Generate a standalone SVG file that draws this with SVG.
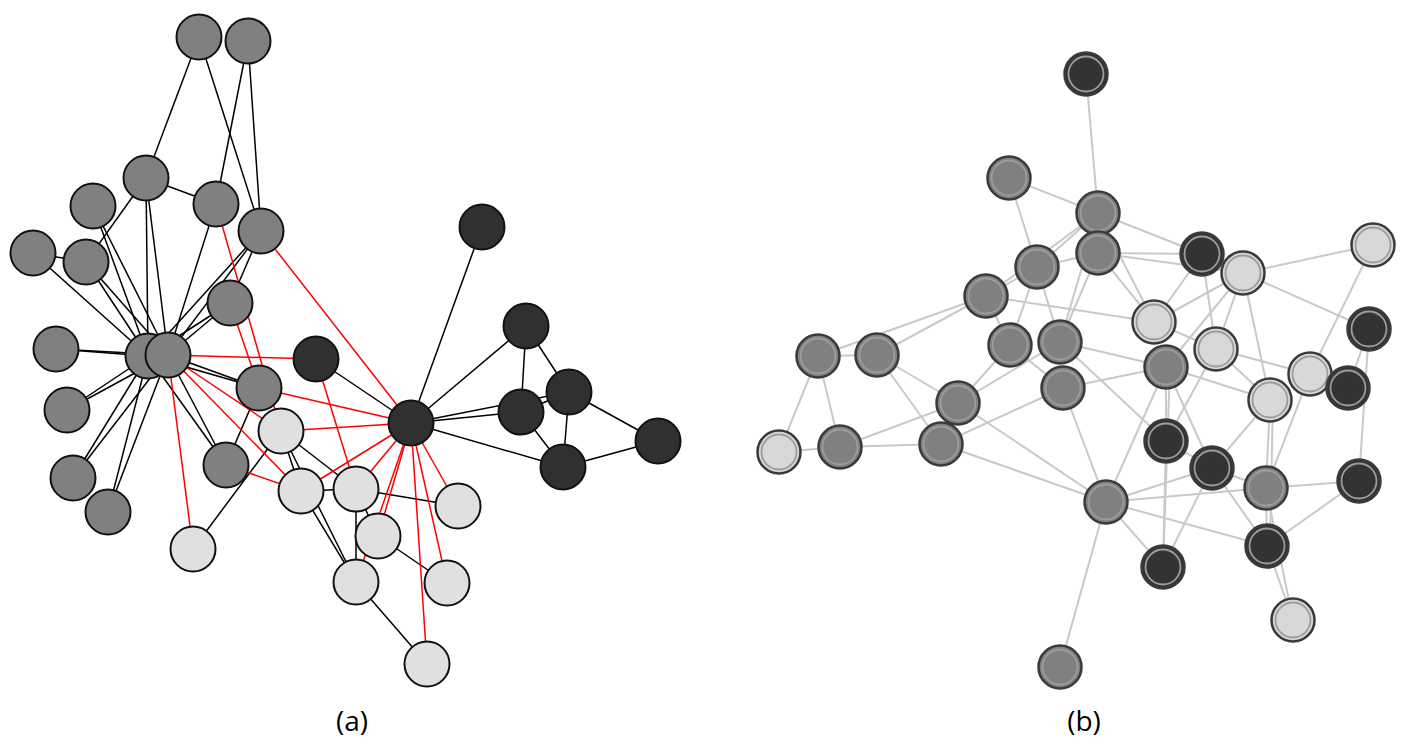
<svg xmlns="http://www.w3.org/2000/svg" width="1419" height="749" viewBox="0 0 1419 749">
<style>
.ek{stroke:#000;stroke-width:1.5;fill:none}
.er{stroke:#ff0000;stroke-width:1.5;fill:none}
.eb{stroke:#c9c9c9;stroke-width:2;fill:none}
.ng circle{fill:#808080;stroke:#111;stroke-width:2}
.nd circle{fill:#303030;stroke:#111;stroke-width:2}
.nl circle{fill:#e0e0e0;stroke:#111;stroke-width:2}
.bg .o{fill:#808080}
.bd .o{fill:#333333}
.bl .o{fill:#d8d8d8}
.o{stroke:#3a3a3a;stroke-width:2.5}
.i{fill:none;stroke:#9c9c9c;stroke-width:1.8}
text{font-family:"Open Sans","Liberation Sans",sans-serif;font-size:28px;fill:#000}
</style>
<rect width="1419" height="749" fill="#fff"/>
<g id="connectors-a">
<line class="ek" x1="199" y1="37" x2="146" y2="178"/>
<line class="ek" x1="199" y1="37" x2="261" y2="231"/>
<line class="ek" x1="248" y1="41" x2="216" y2="204"/>
<line class="ek" x1="248" y1="41" x2="261" y2="231"/>
<line class="ek" x1="146" y1="178" x2="216" y2="204"/>
<line class="ek" x1="146" y1="178" x2="86" y2="262"/>
<line class="ek" x1="146" y1="178" x2="148" y2="356"/>
<line class="ek" x1="146" y1="178" x2="168" y2="355"/>
<line class="ek" x1="93" y1="206" x2="148" y2="356"/>
<line class="ek" x1="93" y1="206" x2="168" y2="355"/>
<line class="ek" x1="33" y1="253" x2="86" y2="262"/>
<line class="ek" x1="33" y1="253" x2="148" y2="356"/>
<line class="ek" x1="86" y1="262" x2="148" y2="356"/>
<line class="ek" x1="86" y1="262" x2="168" y2="355"/>
<line class="ek" x1="216" y1="204" x2="168" y2="355"/>
<line class="ek" x1="261" y1="231" x2="148" y2="356"/>
<line class="ek" x1="261" y1="231" x2="168" y2="355"/>
<line class="ek" x1="261" y1="231" x2="230" y2="303"/>
<line class="ek" x1="230" y1="303" x2="168" y2="355"/>
<line class="ek" x1="230" y1="303" x2="148" y2="356"/>
<line class="ek" x1="56" y1="349" x2="148" y2="356"/>
<line class="ek" x1="56" y1="349" x2="168" y2="355"/>
<line class="ek" x1="67" y1="410" x2="148" y2="356"/>
<line class="ek" x1="67" y1="410" x2="168" y2="355"/>
<line class="ek" x1="73" y1="478" x2="148" y2="356"/>
<line class="ek" x1="73" y1="478" x2="168" y2="355"/>
<line class="ek" x1="108" y1="512" x2="148" y2="356"/>
<line class="ek" x1="108" y1="512" x2="168" y2="355"/>
<line class="ek" x1="259" y1="388" x2="148" y2="356"/>
<line class="ek" x1="259" y1="388" x2="168" y2="355"/>
<line class="ek" x1="226" y1="465" x2="148" y2="356"/>
<line class="ek" x1="226" y1="465" x2="168" y2="355"/>
<line class="ek" x1="259" y1="388" x2="226" y2="465"/>
<line class="ek" x1="281" y1="431" x2="193" y2="549"/>
<line class="ek" x1="281" y1="431" x2="301" y2="491"/>
<line class="ek" x1="281" y1="431" x2="356" y2="582"/>
<line class="ek" x1="301" y1="491" x2="356" y2="582"/>
<line class="ek" x1="301" y1="491" x2="356" y2="489"/>
<line class="ek" x1="281" y1="431" x2="356" y2="489"/>
<line class="ek" x1="356" y1="489" x2="458" y2="506"/>
<line class="ek" x1="356" y1="489" x2="356" y2="582"/>
<line class="ek" x1="356" y1="489" x2="378" y2="536"/>
<line class="ek" x1="378" y1="536" x2="447" y2="583"/>
<line class="ek" x1="356" y1="582" x2="427" y2="664"/>
<line class="ek" x1="316" y1="359" x2="411" y2="423"/>
<line class="ek" x1="482" y1="227" x2="411" y2="423"/>
<line class="ek" x1="411" y1="423" x2="526" y2="326"/>
<line class="ek" x1="411" y1="423" x2="521" y2="412"/>
<line class="ek" x1="411" y1="423" x2="569" y2="392"/>
<line class="ek" x1="411" y1="423" x2="563" y2="467"/>
<line class="ek" x1="526" y1="326" x2="521" y2="412"/>
<line class="ek" x1="526" y1="326" x2="569" y2="392"/>
<line class="ek" x1="521" y1="412" x2="563" y2="467"/>
<line class="ek" x1="569" y1="392" x2="563" y2="467"/>
<line class="ek" x1="569" y1="392" x2="658" y2="441"/>
<line class="ek" x1="563" y1="467" x2="658" y2="441"/>
<line class="ek" x1="521" y1="412" x2="569" y2="392"/>
<line class="er" x1="168" y1="355" x2="193" y2="549"/>
<line class="er" x1="168" y1="355" x2="316" y2="359"/>
<line class="er" x1="168" y1="355" x2="281" y2="431"/>
<line class="er" x1="168" y1="355" x2="301" y2="491"/>
<line class="er" x1="216" y1="204" x2="281" y2="431"/>
<line class="er" x1="230" y1="303" x2="259" y2="388"/>
<line class="er" x1="261" y1="231" x2="411" y2="423"/>
<line class="er" x1="259" y1="388" x2="411" y2="423"/>
<line class="er" x1="281" y1="431" x2="411" y2="423"/>
<line class="er" x1="316" y1="359" x2="356" y2="489"/>
<line class="er" x1="226" y1="465" x2="301" y2="491"/>
<line class="er" x1="411" y1="423" x2="301" y2="491"/>
<line class="er" x1="411" y1="423" x2="356" y2="489"/>
<line class="er" x1="411" y1="423" x2="378" y2="536"/>
<line class="er" x1="411" y1="423" x2="356" y2="582"/>
<line class="er" x1="411" y1="423" x2="427" y2="664"/>
<line class="er" x1="411" y1="423" x2="447" y2="583"/>
<line class="er" x1="411" y1="423" x2="458" y2="506"/>
</g>
<g id="nodes-a">
<g id="a1" class="ng"><circle cx="199" cy="37" r="22.5"/></g>
<g id="a2" class="ng"><circle cx="248" cy="41" r="22.5"/></g>
<g id="a3" class="ng"><circle cx="146" cy="178" r="22.5"/></g>
<g id="a4" class="ng"><circle cx="93" cy="206" r="22.5"/></g>
<g id="a5" class="ng"><circle cx="216" cy="204" r="22.5"/></g>
<g id="a6" class="ng"><circle cx="261" cy="231" r="22.5"/></g>
<g id="a7" class="ng"><circle cx="33" cy="253" r="22.5"/></g>
<g id="a8" class="ng"><circle cx="86" cy="262" r="22.5"/></g>
<g id="a9" class="ng"><circle cx="230" cy="303" r="22.5"/></g>
<g id="a10" class="ng"><circle cx="56" cy="349" r="22.5"/></g>
<g id="a11" class="ng"><circle cx="148" cy="356" r="22.5"/></g>
<g id="a12" class="ng"><circle cx="168" cy="355" r="22.5"/></g>
<g id="a13" class="ng"><circle cx="259" cy="388" r="22.5"/></g>
<g id="a14" class="ng"><circle cx="67" cy="410" r="22.5"/></g>
<g id="a15" class="ng"><circle cx="73" cy="478" r="22.5"/></g>
<g id="a16" class="ng"><circle cx="108" cy="512" r="22.5"/></g>
<g id="a17" class="ng"><circle cx="226" cy="465" r="22.5"/></g>
<g id="a18" class="nl"><circle cx="281" cy="431" r="22.5"/></g>
<g id="a19" class="nl"><circle cx="301" cy="491" r="22.5"/></g>
<g id="a20" class="nl"><circle cx="193" cy="549" r="22.5"/></g>
<g id="a21" class="nl"><circle cx="356" cy="489" r="22.5"/></g>
<g id="a22" class="nl"><circle cx="378" cy="536" r="22.5"/></g>
<g id="a23" class="nl"><circle cx="458" cy="506" r="22.5"/></g>
<g id="a24" class="nl"><circle cx="356" cy="582" r="22.5"/></g>
<g id="a25" class="nl"><circle cx="447" cy="583" r="22.5"/></g>
<g id="a26" class="nl"><circle cx="427" cy="664" r="22.5"/></g>
<g id="d1" class="nd"><circle cx="316" cy="359" r="22.5"/></g>
<g id="d2" class="nd"><circle cx="411" cy="423" r="22.5"/></g>
<g id="d3" class="nd"><circle cx="482" cy="227" r="22.5"/></g>
<g id="d4" class="nd"><circle cx="526" cy="326" r="22.5"/></g>
<g id="d5" class="nd"><circle cx="569" cy="392" r="22.5"/></g>
<g id="d6" class="nd"><circle cx="521" cy="412" r="22.5"/></g>
<g id="d7" class="nd"><circle cx="563" cy="467" r="22.5"/></g>
<g id="d8" class="nd"><circle cx="658" cy="441" r="22.5"/></g>
</g>
<g id="connectors-b">
<line class="eb" x1="1086" y1="74" x2="1098" y2="213"/>
<line class="eb" x1="1009" y1="178" x2="1098" y2="213"/>
<line class="eb" x1="1009" y1="178" x2="1037" y2="267"/>
<line class="eb" x1="1098" y1="213" x2="1037" y2="267"/>
<line class="eb" x1="1098" y1="213" x2="986" y2="296"/>
<line class="eb" x1="1037" y1="267" x2="986" y2="296"/>
<line class="eb" x1="1098" y1="253" x2="1037" y2="267"/>
<line class="eb" x1="986" y1="296" x2="818" y2="356"/>
<line class="eb" x1="986" y1="296" x2="877" y2="355"/>
<line class="eb" x1="986" y1="296" x2="1010" y2="345"/>
<line class="eb" x1="1037" y1="267" x2="1010" y2="345"/>
<line class="eb" x1="1037" y1="267" x2="1060" y2="342"/>
<line class="eb" x1="1098" y1="253" x2="1060" y2="342"/>
<line class="eb" x1="1098" y1="213" x2="1060" y2="342"/>
<line class="eb" x1="986" y1="296" x2="1154" y2="322"/>
<line class="eb" x1="1098" y1="213" x2="1202" y2="254"/>
<line class="eb" x1="1098" y1="253" x2="1202" y2="254"/>
<line class="eb" x1="1098" y1="253" x2="1243" y2="273"/>
<line class="eb" x1="1098" y1="253" x2="1154" y2="322"/>
<line class="eb" x1="1098" y1="213" x2="1154" y2="322"/>
<line class="eb" x1="818" y1="356" x2="877" y2="355"/>
<line class="eb" x1="818" y1="356" x2="779" y2="452"/>
<line class="eb" x1="818" y1="356" x2="840" y2="447"/>
<line class="eb" x1="779" y1="452" x2="840" y2="447"/>
<line class="eb" x1="840" y1="447" x2="941" y2="444"/>
<line class="eb" x1="840" y1="447" x2="958" y2="403"/>
<line class="eb" x1="877" y1="355" x2="958" y2="403"/>
<line class="eb" x1="877" y1="355" x2="941" y2="444"/>
<line class="eb" x1="1010" y1="345" x2="958" y2="403"/>
<line class="eb" x1="1060" y1="342" x2="958" y2="403"/>
<line class="eb" x1="958" y1="403" x2="1106" y2="502"/>
<line class="eb" x1="941" y1="444" x2="1106" y2="502"/>
<line class="eb" x1="941" y1="444" x2="1063" y2="388"/>
<line class="eb" x1="1063" y1="388" x2="1106" y2="502"/>
<line class="eb" x1="1106" y1="502" x2="1060" y2="667"/>
<line class="eb" x1="1060" y1="342" x2="1166" y2="367"/>
<line class="eb" x1="1063" y1="388" x2="1166" y2="367"/>
<line class="eb" x1="1010" y1="345" x2="1063" y2="388"/>
<line class="eb" x1="1060" y1="342" x2="1166" y2="441"/>
<line class="eb" x1="1166" y1="367" x2="1166" y2="441"/>
<line class="eb" x1="1170" y1="367" x2="1163" y2="567"/>
<line class="eb" x1="1166" y1="367" x2="1212" y2="468"/>
<line class="eb" x1="1166" y1="367" x2="1106" y2="502"/>
<line class="eb" x1="1202" y1="254" x2="1154" y2="322"/>
<line class="eb" x1="1243" y1="273" x2="1154" y2="322"/>
<line class="eb" x1="1154" y1="322" x2="1216" y2="349"/>
<line class="eb" x1="1202" y1="254" x2="1216" y2="349"/>
<line class="eb" x1="1243" y1="273" x2="1216" y2="349"/>
<line class="eb" x1="1243" y1="273" x2="1166" y2="367"/>
<line class="eb" x1="1243" y1="273" x2="1373" y2="245"/>
<line class="eb" x1="1243" y1="273" x2="1369" y2="329"/>
<line class="eb" x1="1243" y1="273" x2="1270" y2="400"/>
<line class="eb" x1="1373" y1="245" x2="1310" y2="374"/>
<line class="eb" x1="1369" y1="329" x2="1348" y2="388"/>
<line class="eb" x1="1369" y1="329" x2="1359" y2="481"/>
<line class="eb" x1="1216" y1="349" x2="1310" y2="374"/>
<line class="eb" x1="1216" y1="349" x2="1270" y2="400"/>
<line class="eb" x1="1166" y1="367" x2="1270" y2="400"/>
<line class="eb" x1="1216" y1="349" x2="1166" y2="441"/>
<line class="eb" x1="1270" y1="400" x2="1212" y2="468"/>
<line class="eb" x1="1270" y1="400" x2="1266" y2="488"/>
<line class="eb" x1="1273" y1="400" x2="1270" y2="546"/>
<line class="eb" x1="1310" y1="374" x2="1266" y2="488"/>
<line class="eb" x1="1106" y1="502" x2="1163" y2="567"/>
<line class="eb" x1="1106" y1="502" x2="1212" y2="468"/>
<line class="eb" x1="1106" y1="502" x2="1266" y2="488"/>
<line class="eb" x1="1106" y1="502" x2="1267" y2="546"/>
<line class="eb" x1="1166" y1="441" x2="1163" y2="567"/>
<line class="eb" x1="1212" y1="468" x2="1163" y2="567"/>
<line class="eb" x1="1212" y1="468" x2="1267" y2="546"/>
<line class="eb" x1="1212" y1="468" x2="1266" y2="488"/>
<line class="eb" x1="1266" y1="488" x2="1359" y2="481"/>
<line class="eb" x1="1267" y1="546" x2="1359" y2="481"/>
<line class="eb" x1="1266" y1="488" x2="1267" y2="546"/>
<line class="eb" x1="1267" y1="546" x2="1293" y2="620"/>
<line class="eb" x1="1266" y1="488" x2="1293" y2="620"/>
<line class="eb" x1="1166" y1="441" x2="1212" y2="468"/>
</g>
<g id="nodes-b">
<g id="b1" class="bd"><circle class="o" cx="1086" cy="74" r="21.5"/><circle class="i" cx="1086" cy="74" r="17.5"/></g>
<g id="b2" class="bg"><circle class="o" cx="1009" cy="178" r="21.5"/><circle class="i" cx="1009" cy="178" r="17.5"/></g>
<g id="b3" class="bg"><circle class="o" cx="1098" cy="213" r="21.5"/><circle class="i" cx="1098" cy="213" r="17.5"/></g>
<g id="b4" class="bg"><circle class="o" cx="1098" cy="253" r="21.5"/><circle class="i" cx="1098" cy="253" r="17.5"/></g>
<g id="b5" class="bg"><circle class="o" cx="1037" cy="267" r="21.5"/><circle class="i" cx="1037" cy="267" r="17.5"/></g>
<g id="b6" class="bg"><circle class="o" cx="986" cy="296" r="21.5"/><circle class="i" cx="986" cy="296" r="17.5"/></g>
<g id="b7" class="bd"><circle class="o" cx="1202" cy="254" r="21.5"/><circle class="i" cx="1202" cy="254" r="17.5"/></g>
<g id="b8" class="bl"><circle class="o" cx="1243" cy="273" r="21.5"/><circle class="i" cx="1243" cy="273" r="17.5"/></g>
<g id="b9" class="bl"><circle class="o" cx="1373" cy="245" r="21.5"/><circle class="i" cx="1373" cy="245" r="17.5"/></g>
<g id="b10" class="bl"><circle class="o" cx="1154" cy="322" r="21.5"/><circle class="i" cx="1154" cy="322" r="17.5"/></g>
<g id="b11" class="bd"><circle class="o" cx="1369" cy="329" r="21.5"/><circle class="i" cx="1369" cy="329" r="17.5"/></g>
<g id="b12" class="bl"><circle class="o" cx="1216" cy="349" r="21.5"/><circle class="i" cx="1216" cy="349" r="17.5"/></g>
<g id="b13" class="bg"><circle class="o" cx="1166" cy="367" r="21.5"/><circle class="i" cx="1166" cy="367" r="17.5"/></g>
<g id="b14" class="bl"><circle class="o" cx="1310" cy="374" r="21.5"/><circle class="i" cx="1310" cy="374" r="17.5"/></g>
<g id="b15" class="bd"><circle class="o" cx="1348" cy="388" r="21.5"/><circle class="i" cx="1348" cy="388" r="17.5"/></g>
<g id="b16" class="bl"><circle class="o" cx="1270" cy="400" r="21.5"/><circle class="i" cx="1270" cy="400" r="17.5"/></g>
<g id="b17" class="bg"><circle class="o" cx="818" cy="356" r="21.5"/><circle class="i" cx="818" cy="356" r="17.5"/></g>
<g id="b18" class="bg"><circle class="o" cx="877" cy="355" r="21.5"/><circle class="i" cx="877" cy="355" r="17.5"/></g>
<g id="b19" class="bg"><circle class="o" cx="1010" cy="345" r="21.5"/><circle class="i" cx="1010" cy="345" r="17.5"/></g>
<g id="b20" class="bg"><circle class="o" cx="1060" cy="342" r="21.5"/><circle class="i" cx="1060" cy="342" r="17.5"/></g>
<g id="b21" class="bg"><circle class="o" cx="958" cy="403" r="21.5"/><circle class="i" cx="958" cy="403" r="17.5"/></g>
<g id="b22" class="bg"><circle class="o" cx="1063" cy="388" r="21.5"/><circle class="i" cx="1063" cy="388" r="17.5"/></g>
<g id="b23" class="bl"><circle class="o" cx="779" cy="452" r="21.5"/><circle class="i" cx="779" cy="452" r="17.5"/></g>
<g id="b24" class="bg"><circle class="o" cx="840" cy="447" r="21.5"/><circle class="i" cx="840" cy="447" r="17.5"/></g>
<g id="b25" class="bg"><circle class="o" cx="941" cy="444" r="21.5"/><circle class="i" cx="941" cy="444" r="17.5"/></g>
<g id="b26" class="bg"><circle class="o" cx="1106" cy="502" r="21.5"/><circle class="i" cx="1106" cy="502" r="17.5"/></g>
<g id="b27" class="bd"><circle class="o" cx="1166" cy="441" r="21.5"/><circle class="i" cx="1166" cy="441" r="17.5"/></g>
<g id="b28" class="bd"><circle class="o" cx="1212" cy="468" r="21.5"/><circle class="i" cx="1212" cy="468" r="17.5"/></g>
<g id="b29" class="bg"><circle class="o" cx="1266" cy="488" r="21.5"/><circle class="i" cx="1266" cy="488" r="17.5"/></g>
<g id="b30" class="bd"><circle class="o" cx="1359" cy="481" r="21.5"/><circle class="i" cx="1359" cy="481" r="17.5"/></g>
<g id="b31" class="bd"><circle class="o" cx="1163" cy="567" r="21.5"/><circle class="i" cx="1163" cy="567" r="17.5"/></g>
<g id="b32" class="bd"><circle class="o" cx="1267" cy="546" r="21.5"/><circle class="i" cx="1267" cy="546" r="17.5"/></g>
<g id="b33" class="bl"><circle class="o" cx="1293" cy="620" r="21.5"/><circle class="i" cx="1293" cy="620" r="17.5"/></g>
<g id="b34" class="bg"><circle class="o" cx="1060" cy="667" r="21.5"/><circle class="i" cx="1060" cy="667" r="17.5"/></g>
</g>
<g id="labels">
<text x="352" y="731" text-anchor="middle">(a)</text>
<text x="1084" y="731" text-anchor="middle">(b)</text>
</g>
</svg>
